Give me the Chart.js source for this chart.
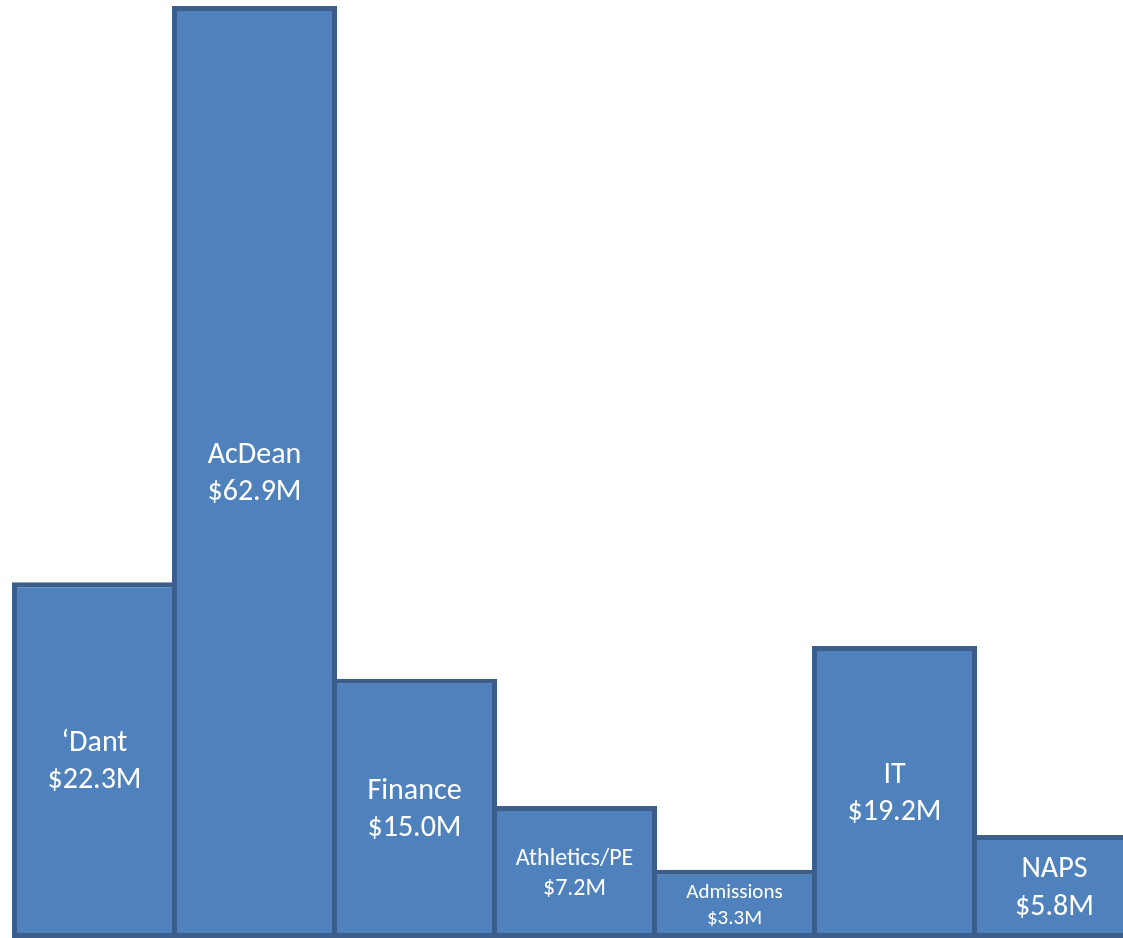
<!DOCTYPE html>
<html>
<head>
<meta charset="utf-8">
<script src="https://cdn.jsdelivr.net/npm/chart.js@4/dist/chart.umd.min.js"></script>
<style>
  html, body { margin: 0; padding: 0; background: #fff; overflow: hidden; }
  #wrap { width: 1150px; height: 938px; }
</style>
</head>
<body>
<div id="wrap"><canvas id="budgetChart" width="1150" height="938"></canvas></div>
<script>
// ====== DATA ======
const departments = ["\u2018Dant", "AcDean", "Finance", "Athletics/PE", "Admissions", "IT", "NAPS"];
const budgetsM = [22.3, 62.9, 15.0, 7.2, 3.3, 19.2, 5.8];
// bar heights as drawn in the picture (same units, scaled to AcDean)
const drawnHeights = [24.0, 62.9, 17.5, 8.9, 4.6, 19.7, 6.95];
const labelSizes = [30, 30, 30, 24, 21, 30, 30];

// ====== LABELS INSIDE BARS ======
const barLabels = {
  id: "barLabels",
  afterDatasetsDraw(chart) {
    const ctx = chart.ctx;
    const meta = chart.getDatasetMeta(0);
    ctx.save();
    ctx.fillStyle = "#ffffff";
    ctx.textAlign = "center";
    ctx.textBaseline = "middle";
    meta.data.forEach((bar, i) => {
      const size = labelSizes[i];
      const gap = size * 1.24;
      const midY = (bar.y + bar.base) / 2 + 2;
      ctx.font = size + "px Carlito, Lato, 'Open Sans', sans-serif";
      ctx.fillText(departments[i], bar.x, midY - gap / 2);
      ctx.fillText("$" + budgetsM[i].toFixed(1) + "M", bar.x, midY + gap / 2);
    });
    ctx.restore();
  },
};

// ====== CHART ======
new Chart(document.getElementById("budgetChart").getContext("2d"), {
  type: "bar",
  data: {
    labels: departments,
    datasets: [
      {
        data: drawnHeights,
        backgroundColor: "#4f81bd",
        borderColor: "#3b5e8c",
        borderWidth: 5,
        borderSkipped: false,
        barPercentage: 165 / 160,
        categoryPercentage: 1,
        clip: false,
      },
    ],
  },
  options: {
    responsive: false,
    animation: false,
    layout: { padding: { left: 14.5, right: 15.5, top: 0, bottom: 0 } },
    plugins: { legend: { display: false }, tooltip: { enabled: false } },
    scales: {
      x: { display: false, offset: true },
      y: { display: false, min: 0, max: 63.3 },
    },
  },
  plugins: [barLabels],
});
</script>
</body>
</html>
